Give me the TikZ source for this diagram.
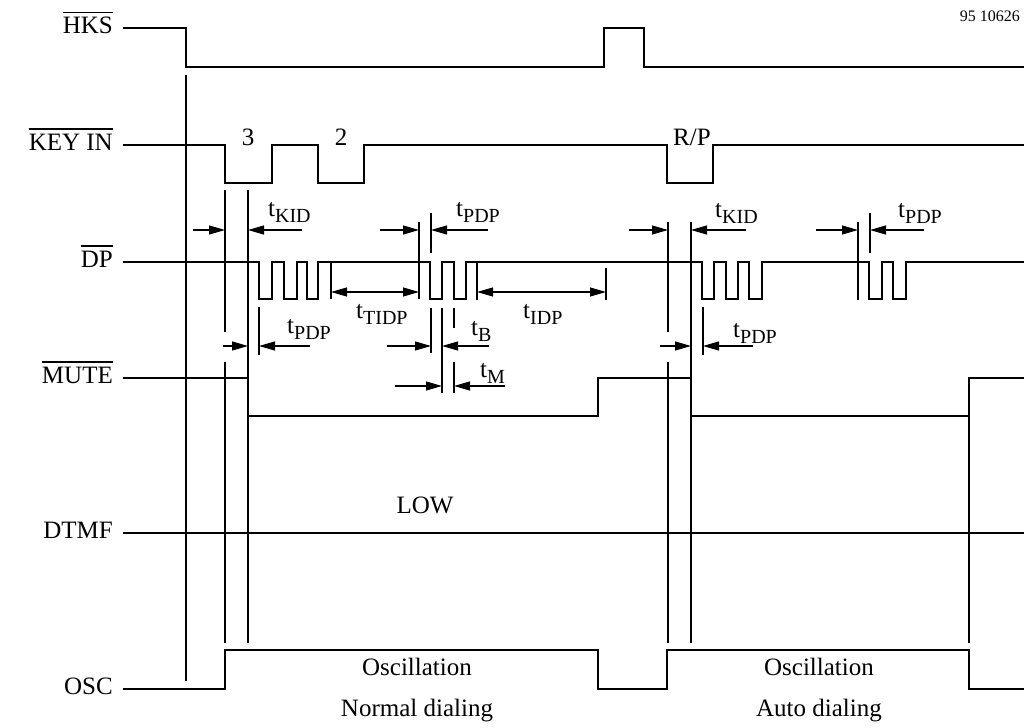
\documentclass[tikz,border=0pt]{standalone}
\usepackage{fontspec}
\setmainfont{Liberation Serif}
\usetikzlibrary{arrows.meta}
\newcommand{\tsub}[2]{#1\raisebox{-6pt}{\fontsize{20}{20}\selectfont #2}}
\begin{document}
\begin{tikzpicture}[x=1pt,y=-1pt,font=\fontsize{25}{30}\selectfont,
  sigline/.style={line width=2.6pt,line join=miter},
  thinline/.style={line width=1.1pt},
  ovl/.style={line width=1.3pt},
  dimarrow/.style={thinline,-{Triangle[length=16pt,width=9pt]}},
  dimboth/.style={thinline,{Triangle[length=16pt,width=9pt]}-{Triangle[length=16pt,width=9pt]}},
  lbl/.style={anchor=base east,inner sep=0pt},
  tl/.style={anchor=base west,inner sep=0pt},
  ctr/.style={anchor=base,inner sep=0pt}]
\useasboundingbox (0,0) rectangle (1026,728);

% signal names
\node[lbl] (hks) at (113,34) {HKS};
\node[lbl] (key) at (113,150) {KEY IN};
\node[lbl] (dp) at (113,267) {DP};
\node[lbl] (mute) at (113,383) {MUTE};
\node[lbl] (dtmf) at (113,538) {DTMF};
\node[lbl] (osc) at (113,694) {OSC};
\foreach \n in {hks,key,dp,mute}
  \draw[ovl] ([yshift=4.5pt]\n.north west) -- ([yshift=4.5pt]\n.north east);
\node[anchor=base east,inner sep=0pt,font=\fontsize{16}{18}\selectfont] (code) at (1020,21) {95 10626};

% signal lines
\draw[sigline] (123,28) -- (186,28) -- (186,67) -- (604,67) -- (604,28) -- (644,28) -- (644,67) -- (1024,67);
\draw[sigline] (123,145) -- (225,145) -- (225,183) -- (272,183) -- (272,145) -- (318,145) -- (318,183) -- (364,183) -- (364,145)
  -- (667,145) -- (667,183) -- (713,183) -- (713,145) -- (1024,145);
\draw[sigline] (123,262) -- (259,262) -- (259,299) -- (272,299) -- (272,262) -- (284,262) -- (284,299) -- (297,299) -- (297,262)
  -- (307,262) -- (307,299) -- (318,299) -- (318,262)
  -- (430,262) -- (430,299) -- (442,299) -- (442,262) -- (454,262) -- (454,299) -- (466,299) -- (466,262)
  -- (702,262) -- (702,299) -- (714,299) -- (714,262) -- (726,262) -- (726,299) -- (738,299) -- (738,262)
  -- (749,262) -- (749,299) -- (762,299) -- (762,262)
  -- (869,262) -- (869,299) -- (882,299) -- (882,262) -- (893,262) -- (893,299) -- (906,299) -- (906,262) -- (1024,262);
\draw[sigline] (123,378) -- (248,378) -- (248,416) -- (598,416) -- (598,378) -- (691,378) -- (691,416) -- (969,416) -- (969,378) -- (1024,378);
\draw[sigline] (123,533) -- (1024,533);
\draw[sigline] (123,689) -- (225,689) -- (225,650) -- (598,650) -- (598,689) -- (667,689) -- (667,650) -- (969,650) -- (969,689) -- (1024,689);

% thin reference lines
\draw[thinline] (186,75) -- (186,681);
\draw[thinline] (225,190) -- (225,332) (225,362) -- (225,643);
\draw[thinline] (248,190) -- (248,643);
\draw[thinline] (259,307) -- (259,355);
\draw[thinline] (331,263) -- (331,299);
\draw[thinline] (419,222) -- (419,299);
\draw[thinline] (431,213) -- (431,253) (431,308) -- (431,353);
\draw[thinline] (442,308) -- (442,393);
\draw[thinline] (454,308) -- (454,328) (454,362) -- (454,393);
\draw[thinline] (477,263) -- (477,300);
\draw[thinline] (606,268) -- (606,300);
\draw[thinline] (668,222) -- (668,332) (668,362) -- (668,643);
\draw[thinline] (691,222) -- (691,643);
\draw[thinline] (703,307) -- (703,355);
\draw[thinline] (858,222) -- (858,300);
\draw[thinline] (870,213) -- (870,253);
\draw[thinline] (969,416) -- (969,643);

% dimension arrows
\draw[dimarrow] (193,230) -- (225,230);
\draw[dimarrow] (302,230) -- (248,230);
\draw[dimarrow] (380,230) -- (419,230);
\draw[dimarrow] (488,230) -- (431,230);
\draw[dimarrow] (629,230) -- (668,230);
\draw[dimarrow] (746,230) -- (691,230);
\draw[dimarrow] (816,230) -- (858,230);
\draw[dimarrow] (924,230) -- (870,230);
\draw[dimboth] (331,292) -- (419,292);
\draw[dimboth] (477,292) -- (606,292);
\draw[dimarrow] (223,346) -- (248,346);
\draw[dimarrow] (310,346) -- (259,346);
\draw[dimarrow] (387,346) -- (431,346);
\draw[dimarrow] (489,346) -- (442,346);
\draw[dimarrow] (660,346) -- (691,346);
\draw[dimarrow] (753,346) -- (703,346);
\draw[dimarrow] (395,386) -- (442,386);
\draw[dimarrow] (505,386) -- (454,386);

% timing labels
\node[tl] (tkid1) at (268,216) {\tsub{t}{KID}};
\node[tl] (tpdp1) at (456,216) {\tsub{t}{PDP}};
\node[tl] (tpdp2) at (287,333) {\tsub{t}{PDP}};
\node[tl] (ttidp) at (356,318) {\tsub{t}{TIDP}};
\node[tl] (tidp) at (523,318) {\tsub{t}{IDP}};
\node[tl] (tb) at (471,335) {\tsub{t}{B}};
\node[tl] (tm) at (480,377) {\tsub{t}{M}};
\node[tl] (tkid2) at (715,217) {\tsub{t}{KID}};
\node[tl] (tpdp3) at (733,337) {\tsub{t}{PDP}};
\node[tl] (tpdp4) at (898,217) {\tsub{t}{PDP}};

% other texts
\node[ctr] (k3) at (248,145) {3};
\node[ctr] (k2) at (341,145) {2};
\node[ctr] (krp) at (692,145) {R/P};
\node[ctr] (low) at (425,513) {LOW};
\node[ctr] (osc1) at (417,675) {Oscillation};
\node[ctr] (osc2) at (819,675) {Oscillation};
\node[ctr] (nd) at (417,716) {Normal dialing};
\node[ctr] (ad) at (819,716) {Auto dialing};
\end{tikzpicture}
\end{document}
